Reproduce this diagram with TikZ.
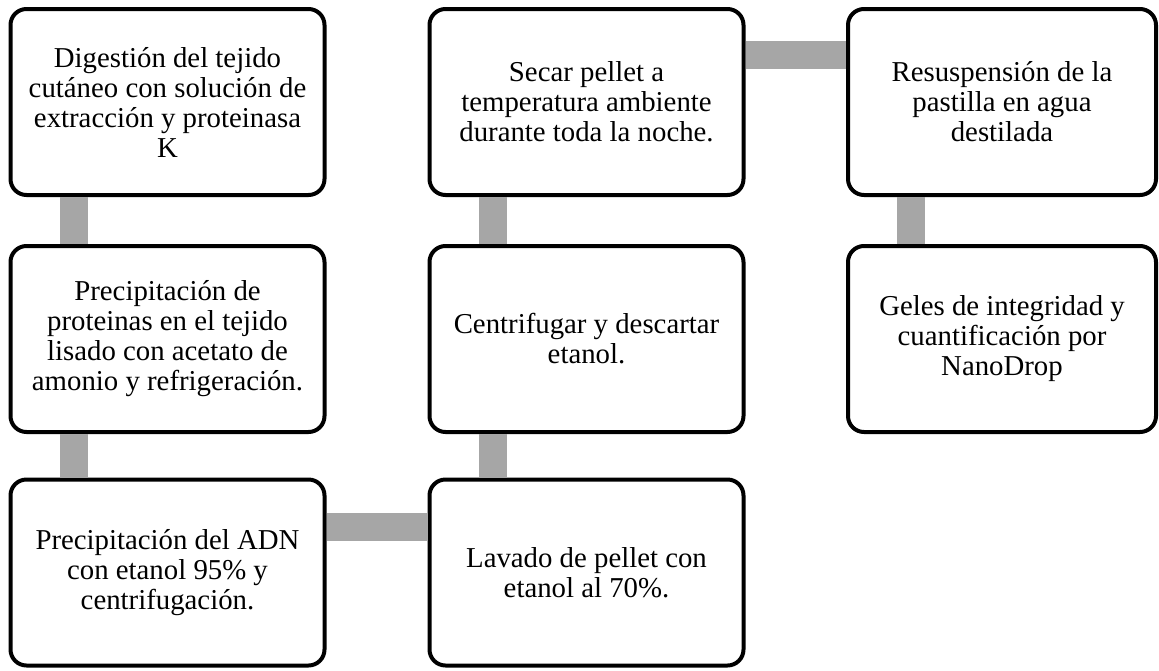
\documentclass[tikz,border=0pt]{standalone}
\usepackage{fontspec}
\setmainfont{Liberation Serif}
\begin{document}
\begin{tikzpicture}[
	x=1pt, y=-1pt,
	stepbox/.style={draw, line width=4pt, rounded corners=16pt, fill=white,
		minimum width=314pt, minimum height=186pt, inner sep=2pt, align=center,
		font=\fontsize{28.8}{30}\selectfont},
	connect/.style={draw=barGray, line width=28pt}
	]
	\definecolor{barGray}{RGB}{166,166,166}
	\useasboundingbox (0,0) rectangle (1159,670);
	
	%-----------------------
	% Column and row positions
	%-----------------------
	\def\colA{167.5}   % Column 1
	\def\colB{586.5}   % Column 2
	\def\colC{1002}    % Column 3
	\def\rowA{102}     % Row 1
	\def\rowB{339}     % Row 2
	\def\rowC{572.5}   % Row 3
	
	%-----------------------
	% Column 1: going down
	%-----------------------
	\node[stepbox] (d1) at (\colA,\rowA) {Digestión del tejido\\cutáneo con solución de\\extracción y proteinasa\\K};
	\node[stepbox] (d2) at (\colA,\rowB) {Precipitación de\\proteinas en el tejido\\lisado con acetato de\\amonio y refrigeración.};
	\node[stepbox] (d3) at (\colA,\rowC) {Precipitación del ADN\\con etanol 95\% y\\centrifugación.};
	
	%-----------------------
	% Column 2: going up
	%-----------------------
	\node[stepbox] (d4) at (\colB,\rowC) {Lavado de pellet con\\etanol al 70\%.};
	\node[stepbox] (d5) at (\colB,\rowB) {Centrifugar y descartar\\etanol.};
	\node[stepbox] (d6) at (\colB,\rowA) {Secar pellet a\\temperatura ambiente\\durante toda la noche.};
	
	%-----------------------
	% Column 3: going down
	%-----------------------
	\node[stepbox, minimum width=308pt] (d7) at (\colC,\rowA) {Resuspensión de la\\pastilla en agua\\destilada};
	\node[stepbox, minimum width=308pt] (d8) at (\colC,\rowB) {Geles de integridad y\\cuantificación por\\NanoDrop};
	
	%-----------------------
	% Connections (gray bars)
	%-----------------------
	% vertical bars
	\draw[connect] ([xshift=65pt]d1.south west) -- ([xshift=65pt]d2.north west);
	\draw[connect] ([xshift=65pt]d2.south west) -- ([xshift=65pt]d3.north west);
	\draw[connect] ([xshift=65pt]d4.north west) -- ([xshift=65pt]d5.south west);
	\draw[connect] ([xshift=65pt]d5.north west) -- ([xshift=65pt]d6.south west);
	\draw[connect] ([xshift=65pt]d7.south west) -- ([xshift=65pt]d8.north west);
	
	% horizontal bars
	\draw[connect] ([yshift=-49pt]d3.north east) -- ([yshift=-49pt]d4.north west);
	\draw[connect] ([yshift=-48pt]d6.north east) -- ([yshift=-48pt]d7.north west);
	
\end{tikzpicture}
\end{document}
